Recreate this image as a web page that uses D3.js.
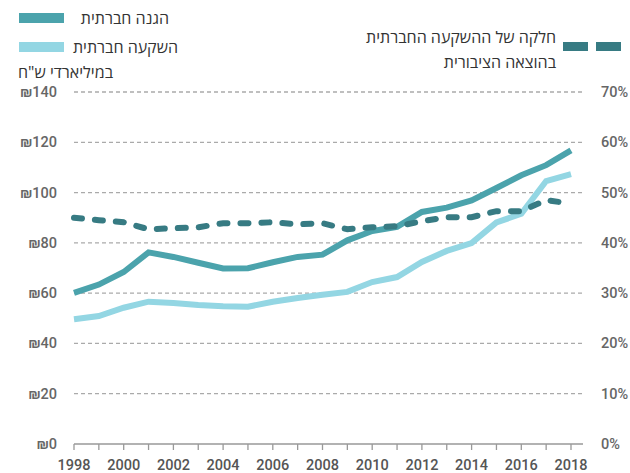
<!DOCTYPE html>
<meta charset="utf-8">
<style>
body { margin: 0; background: #fff; }
text { font-family: Roboto, "Open Sans", sans-serif; }
.tick-label { fill: #666; font-size: 14.5px; font-weight: 500; }
.legend { fill: #333; font-size: 16px; font-weight: 500; font-family: "Open Sans", Roboto, sans-serif; }
</style>
<svg width="630" height="473"></svg>
<script src="https://d3js.org/d3.v7.min.js"></script>
<script>

var years = d3.range(1998, 2019);
// הגנה חברתית, מיליארדי ש"ח
var protection = [60.1, 63.4, 68.4, 76.2, 74.4, 72.1, 69.8, 69.9, 72.3, 74.4, 75.3, 81.0, 84.7, 86.4, 92.3, 94.0, 96.9, 101.8, 106.9, 110.9, 116.8];
// השקעה חברתית, מיליארדי ש"ח
var investment = [49.6, 50.9, 54.2, 56.6, 56.1, 55.3, 54.8, 54.6, 56.6, 58.1, 59.4, 60.5, 64.4, 66.4, 72.4, 76.8, 79.9, 88.1, 91.6, 104.6, 107.3];
// חלקה של ההשקעה החברתית בהוצאה הציבורית, %
var share = [45.0, 44.5, 44.1, 42.7, 42.9, 43.1, 43.9, 43.9, 44.1, 43.7, 43.9, 42.7, 43.1, 43.3, 44.3, 45.1, 45.1, 46.3, 46.3, 48.5, 47.8];

var leftTicks = [0, 20, 40, 60, 80, 100, 120, 140];
var rightTicks = [0, 10, 20, 30, 40, 50, 60, 70];
var yearTicks = d3.range(1998, 2019, 2);

var svg = d3.select("svg");

var x = d3.scaleLinear().domain([1998, 2018]).range([74, 571]);
var yL = d3.scaleLinear().domain([0, 140]).range([444, 92]);
var yR = d3.scaleLinear().domain([0, 70]).range([444, 92]);
var plotRight = 583;

// gridlines
svg.append("g").selectAll("line").data(leftTicks.slice(1)).enter().append("line")
  .attr("x1", x(1998)).attr("x2", plotRight)
  .attr("y1", function(d) { return yL(d); }).attr("y2", function(d) { return yL(d); })
  .attr("stroke", "#aaa").attr("stroke-width", 1.3).attr("stroke-dasharray", "4,3");

// x axis
var xAxis = svg.append("g").attr("transform", "translate(0," + yL(0) + ")");
xAxis.append("line").attr("x1", x(1998)).attr("x2", plotRight).attr("stroke", "#999").attr("stroke-width", 1.3);
xAxis.selectAll(".t").data(years).enter().append("line")
  .attr("x1", function(d) { return x(d); }).attr("x2", function(d) { return x(d); })
  .attr("y1", 0).attr("y2", 6).attr("stroke", "#999").attr("stroke-width", 1.3);
xAxis.selectAll("text").data(yearTicks).enter().append("text")
  .attr("class", "tick-label")
  .attr("x", function(d) { return x(d); }).attr("y", 26)
  .attr("text-anchor", "middle")
  .style("fill", "#555")
  .text(function(d) { return d; });

// left axis labels
svg.append("g").selectAll("text").data(leftTicks).enter().append("text")
  .attr("class", "tick-label")
  .attr("x", 57).attr("y", function(d) { return yL(d) + 5; })
  .attr("text-anchor", "end")
  .text(function(d) { return "\u20AA" + d; });

// right axis labels
svg.append("g").selectAll("text").data(rightTicks).enter().append("text")
  .attr("class", "tick-label")
  .attr("x", 601).attr("y", function(d) { return yR(d) + 5; })
  .attr("text-anchor", "start")
  .text(function(d) { return d + "%"; });

var lineL = d3.line().x(function(d, i) { return x(years[i]); }).y(function(d) { return yL(d); });
var lineR = d3.line().x(function(d, i) { return x(years[i]); }).y(function(d) { return yR(d); });

svg.append("path").datum(investment).attr("d", lineL)
  .attr("fill", "none").attr("stroke", "#93d6e3").attr("stroke-width", 6);
svg.append("path").datum(protection).attr("d", lineL)
  .attr("fill", "none").attr("stroke", "#4ba3ac").attr("stroke-width", 6);
svg.append("path").datum(share).attr("d", lineR)
  .attr("fill", "none").attr("stroke", "#377b83").attr("stroke-width", 6)
  .attr("stroke-linecap", "round").attr("stroke-dasharray", "8,13");

// legend
svg.append("rect").attr("x", 19).attr("y", 13).attr("width", 45).attr("height", 10).attr("fill", "#4ba3ac");
svg.append("text").attr("class", "legend").attr("x", 169).attr("y", 24).attr("text-anchor", "end").text("הגנה חברתית");
svg.append("rect").attr("x", 19).attr("y", 42).attr("width", 45).attr("height", 10).attr("fill", "#93d6e3");
svg.append("text").attr("class", "legend").attr("x", 178).attr("y", 53).attr("text-anchor", "end").text("השקעה חברתית");
svg.append("text").attr("class", "legend").attr("x", 113).attr("y", 78).attr("text-anchor", "end").text("במיליארדי ש\"ח");

svg.append("rect").attr("x", 563).attr("y", 42).attr("width", 25).attr("height", 9).attr("fill", "#377b83");
svg.append("rect").attr("x", 596).attr("y", 42).attr("width", 25).attr("height", 9).attr("fill", "#377b83");
svg.append("text").attr("class", "legend").attr("x", 556).attr("y", 43).attr("text-anchor", "end").text("חלקה של ההשקעה החברתית");
svg.append("text").attr("class", "legend").attr("x", 556).attr("y", 68).attr("text-anchor", "end").text("בהוצאה הציבורית");

</script>
